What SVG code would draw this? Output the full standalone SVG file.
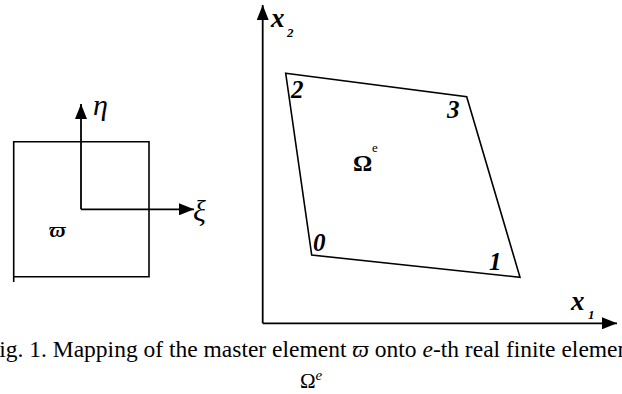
<svg xmlns="http://www.w3.org/2000/svg" width="622" height="394" viewBox="0 0 622 394">
<style>
.ln{fill:none;stroke:#000;stroke-width:1.6}
.ax{fill:none;stroke:#000;stroke-width:1.8}
.t{font-family:"Liberation Serif","DejaVu Serif",serif;fill:#000}
.lbl{font-family:"Liberation Serif","DejaVu Serif",serif;font-style:italic;font-weight:bold;fill:#000}
.gr{font-family:"Liberation Serif","DejaVu Serif",serif;font-style:italic;fill:#000}
</style>
<defs>
<marker id="ah" markerUnits="userSpaceOnUse" markerWidth="15" markerHeight="12" refX="15" refY="6" orient="auto">
<path d="M0,0 L15,6 L0,12 z" fill="#000"/>
</marker>
</defs>
<g id="master-element">
<path class="ln" d="M13.7,282 V141.7 H149 V276.7 H13.7"/>
<text class="gr" x="49" y="237" font-size="22" font-weight="bold">ϖ</text>
</g>
<g id="real-element">
<polygon class="ln" points="285.7,73.3 466.7,96.7 520,277.3 311.7,255"/>
<text class="lbl" x="291" y="98" font-size="25">2</text>
<text class="lbl" x="447" y="118" font-size="25">3</text>
<text class="lbl" x="313" y="251" font-size="25">0</text>
<text class="lbl" x="489" y="270" font-size="25">1</text>
<text class="t" x="353" y="171" font-size="24" font-weight="bold">Ω</text>
<text class="t" x="372" y="152" font-size="13">e</text>
</g>
<g id="connectors">
<line class="ax" x1="81" y1="209.3" x2="81" y2="104" marker-end="url(#ah)"/>
<line class="ax" x1="81" y1="209.3" x2="194" y2="209.3" marker-end="url(#ah)"/>
<line class="ax" x1="262.7" y1="323.3" x2="262.7" y2="5" marker-end="url(#ah)"/>
<line class="ax" x1="262.7" y1="323.3" x2="617" y2="323.3" marker-end="url(#ah)"/>
</g>
<g id="axis-labels">
<text class="gr" x="93" y="115" font-size="30">η</text>
<text class="gr" x="193" y="221" font-size="30">ξ</text>
<text class="lbl" x="271" y="27" font-size="27">x</text>
<text class="lbl" x="287" y="37" font-size="13">2</text>
<text class="lbl" x="571" y="310" font-size="27">x</text>
<text class="lbl" x="588" y="319" font-size="13">1</text>
</g>
<g id="caption">
<text class="t" x="311" y="357" font-size="23.5" text-anchor="middle">Fig. 1. Mapping of the master element <tspan font-style="italic">ϖ</tspan> onto <tspan font-style="italic">e</tspan>-th real finite element</text>
<text class="t" x="300" y="388" font-size="21">Ω<tspan font-style="italic" font-size="15" dy="-8">e</tspan></text>
</g>
</svg>
